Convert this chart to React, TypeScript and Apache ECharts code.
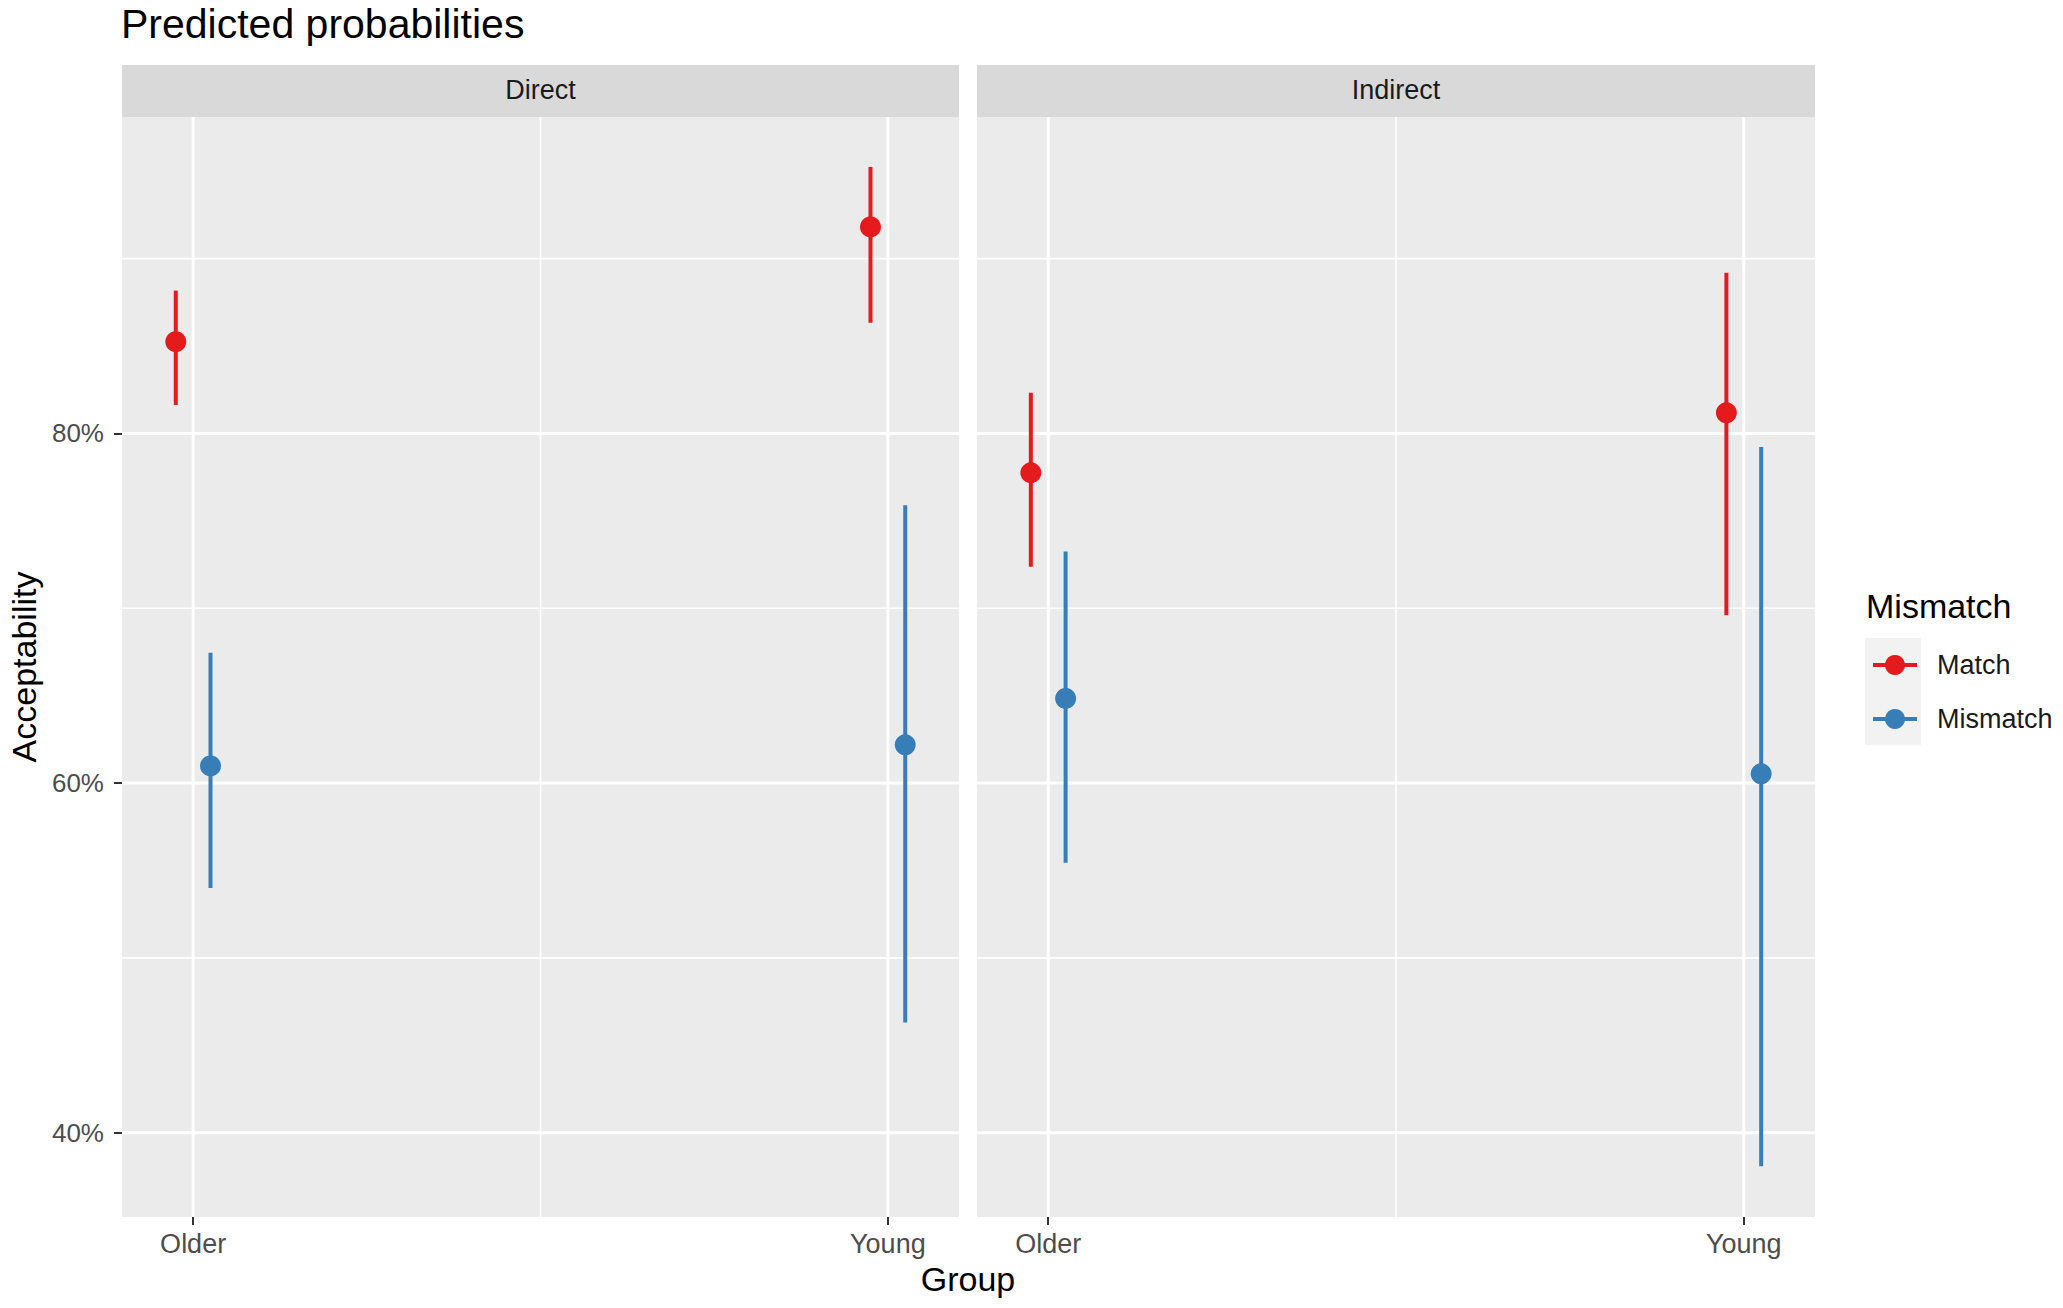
import React, { useEffect, useRef } from "react";
import * as echarts from "echarts";

// ---- data ----
const groups = ["Older", "Young"];
const groupPositions = [1, 2];
const panelNames = ["Direct", "Indirect"];
const legendNames = ["Match", "Mismatch"];

const directMatch = [85.25, 91.81];
const directMatchLow = [81.63, 86.33];
const directMatchHigh = [88.17, 95.24];
const directMismatch = [60.98, 62.19];
const directMismatchLow = [54.0, 46.3];
const directMismatchHigh = [67.46, 75.89];

const indirectMatch = [77.75, 81.18];
const indirectMatchLow = [72.37, 69.6];
const indirectMatchHigh = [82.33, 89.19];
const indirectMismatch = [64.84, 60.53];
const indirectMismatchLow = [55.45, 38.09];
const indirectMismatchHigh = [73.25, 79.23];

const yBreaksMajor = [40, 60, 80];
const yBreaksMinor = [50, 70, 90];
const xBreaksMinor = [1.5];

// ---- style / layout ----
const FONT = "Liberation Sans";
const RED = "#e41a1c";
const BLUE = "#377eb8";
const X_MIN = 0.8976;
const X_MAX = 2.1024;
const Y_MIN = 35.18;
const Y_MAX = 98.1;
const DODGE = 0.025;
const PLOT_TOP = 117;
const PLOT_H = 1100;
const panelBoxes = [
  { left: 122, width: 837 },
  { left: 977, width: 838 },
];

export default function App() {
  const ref = useRef<HTMLDivElement>(null);

  useEffect(() => {
    if (!ref.current) return;
    const chart = echarts.init(ref.current, null, { renderer: "svg" });

    const panelData = [
      {
        match: [directMatch, directMatchLow, directMatchHigh],
        mismatch: [directMismatch, directMismatchLow, directMismatchHigh],
      },
      {
        match: [indirectMatch, indirectMatchLow, indirectMatchHigh],
        mismatch: [indirectMismatch, indirectMismatchLow, indirectMismatchHigh],
      },
    ];

    const series: any[] = [];
    // legend-only series
    [RED, BLUE].forEach((c, k) => {
      series.push({
        type: "line",
        name: legendNames[k],
        xAxisIndex: 0,
        yAxisIndex: 0,
        data: [],
        symbol: "circle",
        symbolSize: 20,
        lineStyle: { color: c, width: 4 },
        itemStyle: { color: c },
      });
    });

    panelData.forEach((pd, gi) => {
      // gridlines
      const gridRows: number[][] = [
        ...yBreaksMinor.map((v) => [0, v, 1.6]),
        ...xBreaksMinor.map((v) => [1, v, 1.6]),
        ...yBreaksMajor.map((v) => [0, v, 3]),
        ...groupPositions.map((v) => [1, v, 3]),
      ];
      series.push({
        type: "custom",
        xAxisIndex: gi,
        yAxisIndex: gi,
        z: 1,
        silent: true,
        data: gridRows,
        renderItem: (params: any, api: any) => {
          const cs = params.coordSys;
          const orient = api.value(0);
          const v = api.value(1);
          const w = api.value(2);
          if (orient === 0) {
            const y = api.coord([1.5, v])[1];
            return {
              type: "line",
              shape: { x1: cs.x, y1: y, x2: cs.x + cs.width, y2: y },
              style: { stroke: "#ffffff", lineWidth: w },
            };
          }
          const x = api.coord([v, 60])[0];
          return {
            type: "line",
            shape: { x1: x, y1: cs.y, x2: x, y2: cs.y + cs.height },
            style: { stroke: "#ffffff", lineWidth: w },
          };
        },
      });

      const sets = [
        { name: legendNames[0], color: RED, vals: pd.match, off: -DODGE },
        { name: legendNames[1], color: BLUE, vals: pd.mismatch, off: DODGE },
      ];
      sets.forEach((s) => {
        const [mean, lo, hi] = s.vals;
        series.push({
          type: "custom",
          name: s.name,
          xAxisIndex: gi,
          yAxisIndex: gi,
          z: 3,
          silent: true,
          data: groupPositions.map((p, i) => [p + s.off, lo[i], hi[i]]),
          encode: { x: 0, y: [1, 2] },
          renderItem: (_params: any, api: any) => {
            const a = api.coord([api.value(0), api.value(1)]);
            const b = api.coord([api.value(0), api.value(2)]);
            return {
              type: "line",
              shape: { x1: a[0], y1: a[1], x2: b[0], y2: b[1] },
              style: { stroke: s.color, lineWidth: 4 },
            };
          },
        });
        series.push({
          type: "scatter",
          name: s.name,
          xAxisIndex: gi,
          yAxisIndex: gi,
          z: 4,
          silent: true,
          symbol: "circle",
          symbolSize: 21,
          itemStyle: { color: s.color, opacity: 1 },
          data: groupPositions.map((p, i) => [p + s.off, mean[i]]),
        });
      });
    });

    const grids = panelBoxes.map((b) => ({
      left: b.left,
      top: PLOT_TOP,
      width: b.width,
      height: PLOT_H,
      show: true,
      backgroundColor: "#ebebeb",
      borderWidth: 0,
    }));

    const xAxes = panelBoxes.map((_b, i) => ({
      type: "value",
      gridIndex: i,
      min: X_MIN,
      max: X_MAX,
      axisLine: { show: false },
      splitLine: { show: false },
      axisTick: {
        show: true,
        length: 8,
        customValues: groupPositions,
        lineStyle: { color: "#333333", width: 2 },
      },
      axisLabel: {
        customValues: groupPositions,
        formatter: (v: number) => groups[Math.round(v) - 1],
        fontSize: 27,
        fontFamily: FONT,
        color: "#4d4d4d",
        margin: 13,
      },
    }));

    const yAxes = panelBoxes.map((_b, i) => ({
      type: "value",
      gridIndex: i,
      min: Y_MIN,
      max: Y_MAX,
      axisLine: { show: false },
      splitLine: { show: false },
      axisTick:
        i === 0
          ? {
              show: true,
              length: 8,
              customValues: yBreaksMajor,
              lineStyle: { color: "#333333", width: 2 },
            }
          : { show: false },
      axisLabel:
        i === 0
          ? {
              customValues: yBreaksMajor,
              formatter: (v: number) => `${v}%`,
              fontSize: 26,
              fontFamily: FONT,
              color: "#4d4d4d",
              margin: 18,
            }
          : { show: false },
      name: i === 0 ? "Acceptability" : "",
      nameLocation: "middle",
      nameGap: 81,
      nameTextStyle: { fontSize: 34, fontFamily: FONT, color: "#000000" },
    }));

    const graphics: any[] = [
      {
        type: "text",
        x: 121,
        y: 24,
        style: {
          text: "Predicted probabilities",
          fontSize: 41,
          fontFamily: FONT,
          fill: "#000000",
          align: "left",
          verticalAlign: "middle",
        },
      },
      {
        type: "text",
        x: 968,
        y: 1279,
        style: {
          text: "Group",
          fontSize: 34,
          fontFamily: FONT,
          fill: "#000000",
          align: "center",
          verticalAlign: "middle",
        },
      },
      {
        type: "text",
        x: 1866,
        y: 606,
        style: {
          text: "Mismatch",
          fontSize: 34,
          fontFamily: FONT,
          fill: "#000000",
          align: "left",
          verticalAlign: "middle",
        },
      },
      {
        type: "rect",
        shape: { x: 1865, y: 638, width: 56, height: 107 },
        style: { fill: "#f2f2f2" },
      },
    ];
    panelBoxes.forEach((b, i) => {
      graphics.push({
        type: "rect",
        shape: { x: b.left, y: 65, width: b.width, height: PLOT_TOP - 65 },
        style: { fill: "#d9d9d9" },
      });
      graphics.push({
        type: "text",
        x: b.left + b.width / 2,
        y: 90,
        style: {
          text: panelNames[i],
          fontSize: 27,
          fontFamily: FONT,
          fill: "#1a1a1a",
          align: "center",
          verticalAlign: "middle",
        },
      });
    });

    chart.setOption({
      animation: false,
      backgroundColor: "#ffffff",
      textStyle: { fontFamily: FONT },
      grid: grids,
      xAxis: xAxes,
      yAxis: yAxes,
      legend: {
        orient: "vertical",
        left: 1866,
        top: 646,
        itemWidth: 44,
        itemHeight: 25,
        itemGap: 26,
        selectedMode: false,
        data: legendNames,
        lineStyle: { width: 4 },
        itemStyle: { borderWidth: 0 },
        textStyle: {
          fontSize: 27,
          lineHeight: 28,
          fontFamily: FONT,
          color: "#1a1a1a",
          padding: [0, 0, 0, 15],
        },
      },
      graphic: graphics,
      series,
    });

    return () => chart.dispose();
  }, []);

  return (
    <div
      ref={ref}
      style={{
        position: "absolute",
        left: 0,
        top: 0,
        width: 2063,
        height: 1308,
        background: "#ffffff",
      }}
    />
  );
}
